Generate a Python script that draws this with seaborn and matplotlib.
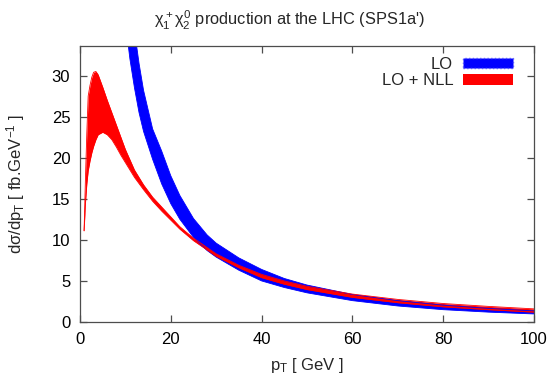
import numpy as np
import pandas as pd
import matplotlib
matplotlib.use('Agg')
import matplotlib.pyplot as plt
from matplotlib.patches import Patch
import seaborn as sns

# LO band (blue), lower/upper edges
lo_pt = [9, 10, 11, 12, 13, 14, 16, 18, 20, 22, 25, 28, 30, 35, 40, 45, 50,
         60, 70, 80, 90, 100]
lo_low = [42.0, 36.5, 32.0, 28.5, 25.5, 23.2, 19.8, 16.8, 14.4, 12.5, 10.3,
          8.7, 7.9, 6.3, 5.0, 4.2, 3.55, 2.6, 1.95, 1.5, 1.2, 0.98]
lo_high = [55.0, 47.0, 41.0, 35.5, 31.5, 28.2, 23.5, 20.8, 17.8, 15.4, 12.6,
           10.6, 9.6, 7.8, 6.4, 5.3, 4.5, 3.35, 2.6, 2.05, 1.65, 1.35]

# LO + NLL band (red)
nll_pt = [0.9, 1.2, 1.5, 1.8, 2.2, 2.6, 3.0, 3.5, 4.0, 5.0, 6.0, 7.0, 8.0,
          9.0, 10, 12, 14, 16, 18, 20, 22, 25, 30, 35, 40, 45, 50, 60, 70,
          80, 90, 100]
nll_low = [11.1, 14.5, 16.8, 18.4, 19.6, 20.6, 21.4, 22.2, 22.8, 23.1, 22.8,
           22.2, 21.3, 20.3, 19.4, 17.6, 16.1, 14.7, 13.5, 12.4, 11.3, 9.9,
           8.0, 6.6, 5.4, 4.6, 3.95, 3.0, 2.35, 1.85, 1.5, 1.2]
nll_high = [11.1, 17.5, 23.0, 27.5, 28.8, 29.8, 30.4, 30.5, 30.1, 28.6, 27.0,
            25.5, 24.0, 22.5, 21.0, 18.5, 16.7, 15.2, 14.0, 12.8, 11.6, 10.2,
            8.3, 6.9, 5.8, 5.0, 4.35, 3.4, 2.75, 2.25, 1.9, 1.6]

lo = pd.DataFrame({'pt': lo_pt, 'low': lo_low, 'high': lo_high})
nll = pd.DataFrame({'pt': nll_pt, 'low': nll_low, 'high': nll_high})

sns.set_theme(style='ticks')
plt.rcParams['font.family'] = ['Liberation Sans', 'DejaVu Sans']
plt.rcParams['mathtext.fontset'] = 'custom'
plt.rcParams['mathtext.rm'] = 'Liberation Sans'
plt.rcParams['mathtext.it'] = 'Liberation Sans'

fs = 12
fig = plt.figure(figsize=(5.54, 3.75), dpi=100)
ax = fig.add_axes([80/554, 1-322/375, 454/554, 276/375])

blue = '#0000ff'
red = '#ff0000'

ax.fill_between(lo['pt'], lo['low'], lo['high'], color=blue, lw=0)
sns.lineplot(data=lo, x='pt', y='low', color=blue, lw=0.6, ax=ax)
sns.lineplot(data=lo, x='pt', y='high', color=blue, lw=0.6, ax=ax)
ax.fill_between(nll['pt'], nll['low'], nll['high'], color=red, lw=0)
sns.lineplot(data=nll, x='pt', y='low', color=red, lw=0.6, ax=ax)
sns.lineplot(data=nll, x='pt', y='high', color=red, lw=0.6, ax=ax)

ax.set_xlim(0, 100)
ax.set_ylim(0, 33.6)
ax.set_xticks(range(0, 101, 20))
ax.set_yticks(range(0, 31, 5))
ax.tick_params(direction='in', length=5, width=0.9, color='0.3',
               labelsize=fs, top=True, right=True, pad=7, labelcolor='black')
for s in ax.spines.values():
    s.set_visible(True)
    s.set_color('0.3')
    s.set_linewidth(0.9)

ax.set_xlabel(r'p$_\mathregular{T}$ [ GeV ]', fontsize=fs, labelpad=7)
ax.set_ylabel(r'd$\sigma$/dp$_\mathregular{T}$ [ fb.GeV$^\mathregular{-1}$ ]',
              fontsize=fs, labelpad=18)
fig.text(289/554, 1-20/375,
         r"$\chi_1^+\chi_2^0$ production at the LHC (SPS1a')",
         ha='center', va='center', fontsize=11.8)

handles = [Patch(facecolor=blue, edgecolor='#5555ff', linestyle=':', lw=1),
           Patch(facecolor=red, edgecolor=red, lw=0)]
leg = ax.legend(handles, ['LO', 'LO + NLL'], loc='upper right',
                bbox_to_anchor=(0.978, 1.0), frameon=False, markerfirst=False,
                fontsize=fs, handlelength=3.0, handleheight=0.6,
                handletextpad=0.6, labelspacing=0.08, borderaxespad=0.25)
for col in leg._legend_handle_box.get_children():
    col.align = 'right'

fig.savefig('out.png', dpi=100)
